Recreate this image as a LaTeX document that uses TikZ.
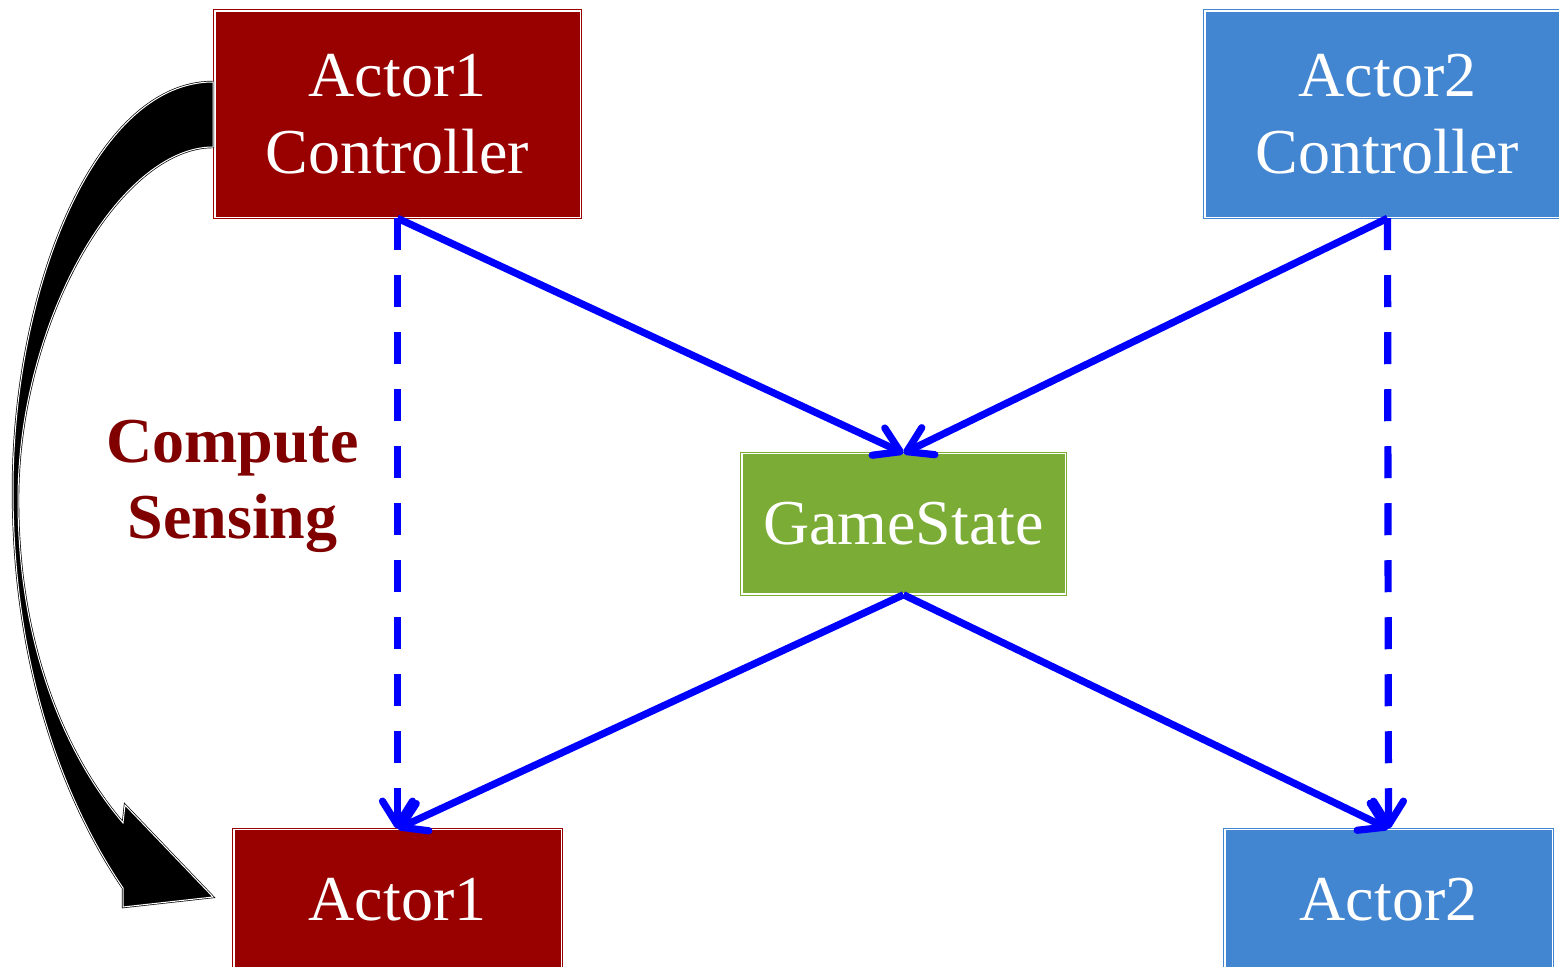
\documentclass[tikz,border=0pt]{standalone}
\usepackage{fontspec}
\setmainfont{Liberation Serif}
\usetikzlibrary{arrows.meta}
\definecolor{dred}{RGB}{153,0,0}
\definecolor{lblue}{RGB}{66,133,208}
\definecolor{lgreen}{RGB}{123,172,53}
\definecolor{lblred}{RGB}{128,0,0}
\tikzset{
  box/.style={draw=#1, fill=#1, double=white, double distance=0.75pt, line width=0.5pt,
    inner sep=0pt, text=white, align=center, font=\fontsize{32}{38.5}\selectfont},
  flow/.style={draw=blue, line width=3.6pt, -{Straight Barb[length=12pt,width=15pt,round]}},
  dflow/.style={flow, dash pattern=on 16pt off 12.5pt},
  bigarrow/.style={fill=black, draw=black, double=white, double distance=0.5pt, line width=0.35pt, line join=miter},
}
\begin{document}
\begin{tikzpicture}[x=0.5pt,y=-0.5pt]
\useasboundingbox (0,0) rectangle (1559,967);
\clip (0,0) rectangle (1559,967);
\node[box=dred, minimum width=182.75pt, minimum height=103.25pt] (a1c) at (397.5,114.5) {Actor1\\Controller};
\node[box=lblue, minimum width=182.75pt, minimum height=103.25pt] (a2c) at (1387.5,114.5) {Actor2\\Controller};
\node[box=lgreen, minimum width=161.75pt, minimum height=70.25pt] (gs) at (903.5,524) {GameState};
\node[box=dred, minimum width=163.75pt, minimum height=70.25pt] (a1) at (397.5,899.5) {Actor1};
\node[box=lblue, minimum width=163.75pt, minimum height=70.25pt] (a2) at (1388.5,899.5) {Actor2};
\node[text=lblred, align=center, font=\fontsize{32}{38}\selectfont\bfseries] (cs) at (232.5,486) {Compute\\Sensing};
\draw[dflow] (a1c.south) -- (a1.north);
\draw[dflow] (a2c.south) -- (a2.north);
\draw[flow] (a1c.south) -- (gs.north);
\draw[flow] (a2c.south) -- (gs.north);
\draw[flow] (gs.south) -- (a1.north);
\draw[flow] (gs.south) -- (a2.north);
\coordinate (o1) at (213,82);
\coordinate (i1) at (213,147);
\draw[bigarrow] (o1) .. controls (95,82) and (13,290) .. (13,490)
  .. controls (13,640) and (50,780) .. (123,888)
  -- (123,907) -- (213,897) -- (125,805) -- (123,823)
  .. controls (65,755) and (18,645) .. (18,500)
  .. controls (18,320) and (120,147) .. (i1) -- cycle;
\end{tikzpicture}
\end{document}
